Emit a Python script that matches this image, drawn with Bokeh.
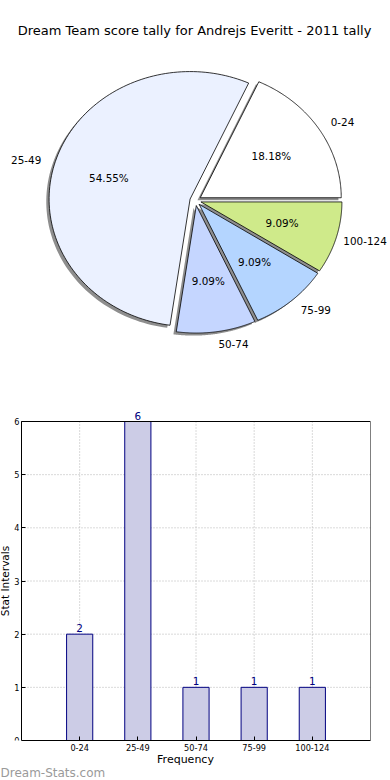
import numpy as np
from bokeh.plotting import figure
from bokeh.models import Range1d, ColumnDataSource, LabelSet, Title
from bokeh.embed import file_html
from bokeh.resources import INLINE
from bokeh.core.properties import value

# ---------------- data ----------------
title_text = "Dream Team score tally for Andrejs Everitt - 2011 tally"
categories = ["0-24", "25-49", "50-74", "75-99", "100-124"]
counts = [2, 6, 1, 1, 1]
x_axis_label = "Frequency"
y_axis_label = "Stat Intervals"
watermark = "Dream-Stats.com"

# ---------------- style ----------------
slice_colors = ["#FFFFFF", "#EBF1FF", "#C5D6FF", "#B4D5FF", "#CFEA8A"]
FONT = "DejaVu Sans"
W = 390
PIE_H = 380
BAR_H = 400

# pie geometry (1 unit = RX px horizontally, RY px vertically)
RX, RY = 141.0, 127.5
CX_PX, CY_PX = 195.0, 200.0
EXPLODE = 0.04
SHADOW = (-0.02, -0.02)

x0, x1 = -CX_PX / RX, (W - CX_PX) / RX
y0, y1 = -(PIE_H - CY_PX) / RY, CY_PX / RY

pie = figure(width=W, height=PIE_H, x_range=Range1d(x0, x1), y_range=Range1d(y0, y1),
             output_backend="svg", toolbar_location=None, min_border=0,
             x_axis_location=None, y_axis_location=None)
pie.grid.visible = False
pie.outline_line_color = None

total = float(sum(counts))
fracs = np.array(counts) / total
edges = np.concatenate([[0.0], np.cumsum(fracs)]) * 2 * np.pi

xs, ys, sxs, sys_ = [], [], [], []
lab_x, lab_y, lab_align, pct_x, pct_y, pct_t = [], [], [], [], [], []
LAB_FS = 10.4
for i, (t1, t2) in enumerate(zip(edges[:-1], edges[1:])):
    m = 0.5 * (t1 + t2)
    ox, oy = EXPLODE * np.cos(m), EXPLODE * np.sin(m)
    t = np.linspace(t1, t2, 120)
    px = np.concatenate([[ox], ox + np.cos(t), [ox]])
    py = np.concatenate([[oy], oy + np.sin(t), [oy]])
    xs.append(list(px)); ys.append(list(py))
    sxs.append(list(px + SHADOW[0])); sys_.append(list(py + SHADOW[1]))
    lx = ox + 1.1 * np.cos(m)
    ly = oy + 1.1 * np.sin(m)
    al = "left" if lx > 0 else "right"
    est_w = LAB_FS * 0.62 * len(categories[i]) / RX
    if al == "left" and lx + est_w > x1 - 2 / RX:
        lx = x1 - 2 / RX - est_w
    lab_x.append(lx); lab_y.append(ly); lab_align.append(al)
    pct_x.append(ox + 0.6 * np.cos(m)); pct_y.append(oy + 0.6 * np.sin(m))
    pct_t.append(f"{100 * fracs[i]:.2f}%")

pie.patches(sxs, sys_, fill_color="#8e8e8e", line_color=None)
pie.patches(xs, ys, fill_color=slice_colors, line_color="black", line_width=0.8)

lab_src = ColumnDataSource(dict(x=lab_x, y=lab_y, t=categories, a=lab_align))
pie.text(x="x", y="y", text="t", text_align="a", text_baseline="middle", source=lab_src,
         text_font=value(FONT), text_font_size=f"{LAB_FS}px", text_color="black")
pct_src = ColumnDataSource(dict(x=pct_x, y=pct_y, t=pct_t))
pie.text(x="x", y="y", text="t", text_align="center", text_baseline="middle", source=pct_src,
         text_font=value(FONT), text_font_size=f"{LAB_FS}px", text_color="black")

pie.text(x=[-1 / RX], y=[(CY_PX - 30) / RY], text=[title_text],
         text_align="center", text_baseline="middle",
         text_font=value(FONT), text_font_size="13px", text_color="black")

# ---------------- bar chart ----------------
ymax = max(counts)
xpos = list(range(len(categories)))
X_START, X_END = -1, len(categories)
BOX_LEFT_PX, BOX_RIGHT_PX = 21, 370
PX_PER_X = (BOX_RIGHT_PX - BOX_LEFT_PX) / (X_END - X_START)
X_LEFT = X_START - BOX_LEFT_PX / PX_PER_X   # frame reaches the left page edge
Y_END = ymax * (1 + 21 / 319)               # room above the box for the count labels

bar = figure(width=W, height=BAR_H, x_range=Range1d(X_LEFT, X_END), y_range=Range1d(0, Y_END),
             output_backend="svg", toolbar_location=None,
             min_border_top=20, min_border_bottom=40, min_border_left=0,
             min_border_right=W - BOX_RIGHT_PX)
bar.outline_line_color = None
bar.grid.visible = False

GRID = dict(line_color="#b4b4b4", line_dash="1 2", line_width=1)
yt = list(range(0, ymax + 1))
bar.segment(x0=xpos, y0=[0] * len(xpos), x1=xpos, y1=[ymax] * len(xpos), **GRID)
bar.segment(x0=[X_START] * len(yt), y0=yt, x1=[X_END] * len(yt), y1=yt, **GRID)

bar.vbar(x=xpos, top=counts, width=0.45, fill_color="#CCCCE6",
         line_color="#000080", line_width=1)

# box: top and right edges
bar.segment(x0=[X_START, X_END], y0=[ymax, 0], x1=[X_END, X_END], y1=[ymax, ymax],
            line_color="black", line_width=1)

bar.xaxis.ticker = xpos
bar.xaxis.major_label_overrides = {i: c for i, c in zip(xpos, categories)}
bar.xaxis.bounds = (X_START, X_END)
bar.yaxis.ticker = yt
bar.yaxis.bounds = (0, ymax)
bar.yaxis.fixed_location = X_START

for ax in (bar.xaxis, bar.yaxis):
    ax.axis_line_color = "black"
    ax.major_tick_in = 4
    ax.major_tick_out = 0
    ax.minor_tick_line_color = None
    ax.major_label_text_font = FONT
    ax.major_label_text_font_size = "8.2px"
    ax.major_label_text_color = "black"
    ax.axis_label_text_font = FONT
    ax.axis_label_text_font_style = "normal"
    ax.axis_label_text_color = "black"
bar.xaxis.axis_label_text_font_size = "11px"
bar.yaxis.axis_label_text_font_size = "10.5px"
bar.xaxis.axis_label = x_axis_label
bar.yaxis.axis_label = y_axis_label
bar.xaxis.major_label_standoff = 3
bar.xaxis.axis_label_standoff = -1
bar.yaxis.major_label_standoff = 2
bar.yaxis.axis_label_standoff = 0

cnt_src = ColumnDataSource(dict(x=xpos, y=counts, t=[str(c) for c in counts]))
bar.add_layout(LabelSet(x="x", y="y", text="t", source=cnt_src, y_offset=2,
                        text_align="center", text_baseline="bottom", text_color="#000080",
                        text_font=value(FONT), text_font_size="10.4px"))

bar.add_layout(Title(text=watermark, align="left", offset=0, standoff=-10,
                     text_color="#9a9a9a", text_font=FONT, text_font_size="12px",
                     text_font_style="normal"), "below")

open("out.html", "w").write(file_html([pie, bar], INLINE))
